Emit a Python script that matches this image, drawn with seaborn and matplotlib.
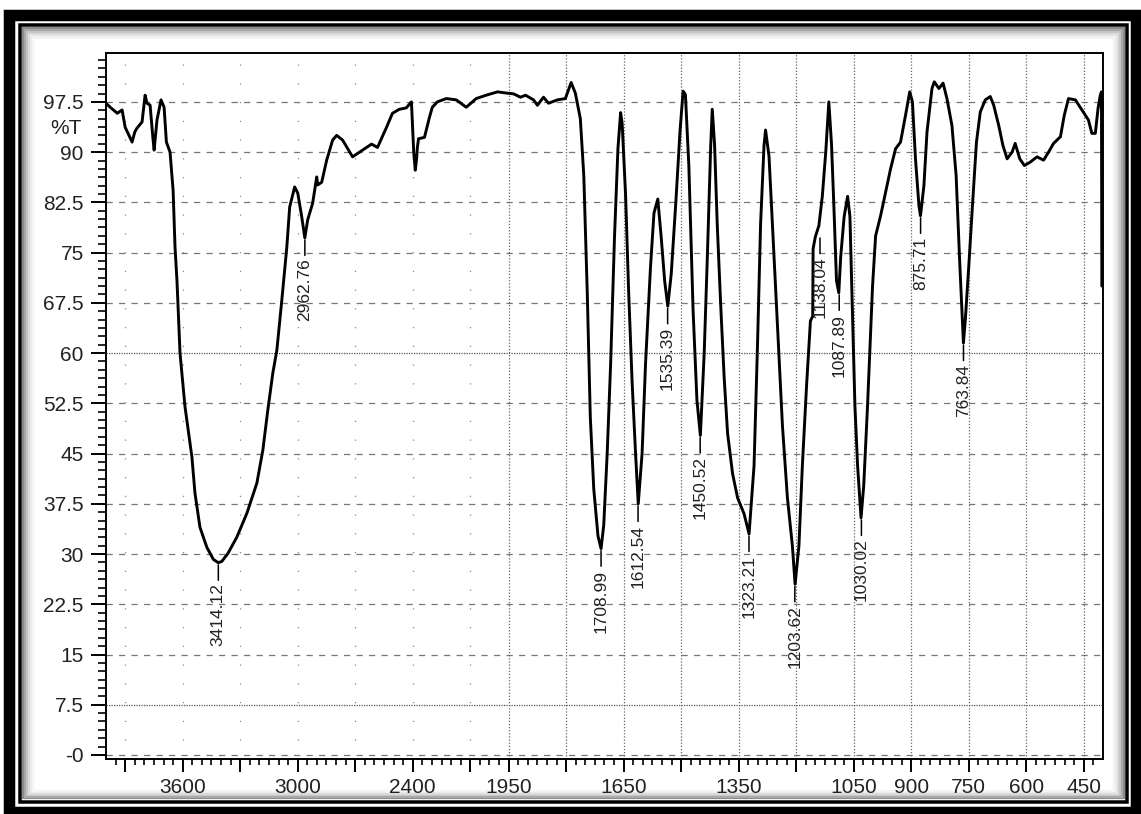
import numpy as np
import pandas as pd
import seaborn as sns
import matplotlib.pyplot as plt
from matplotlib.patches import Rectangle
from matplotlib.ticker import FixedLocator, FixedFormatter
import matplotlib.transforms as mtransforms

# FTIR spectrum (wavenumber cm-1, %T)
wavenumber = [
    4000, 3978, 3941, 3916, 3900, 3880, 3864, 3850, 3838, 3812, 3796, 3786, 3770,
    3755, 3749, 3740, 3734, 3713, 3697, 3685, 3666, 3650, 3640, 3630, 3614, 3588,
    3552, 3536, 3510, 3474, 3440, 3414, 3396, 3364, 3318, 3265, 3213, 3182, 3156,
    3130, 3109, 3083, 3068, 3057, 3042, 3016, 3000, 2980, 2963, 2948, 2922, 2901,
    2896, 2875, 2849, 2818, 2797, 2766, 2714, 2662, 2615, 2584, 2537, 2506, 2470,
    2434, 2407, 2395, 2387, 2380, 2376, 2370, 2355, 2339, 2313, 2298, 2272, 2225,
    2173, 2121, 2069, 2017, 1979, 1953, 1937, 1919, 1906, 1885, 1875, 1859, 1846,
    1823, 1802, 1787, 1776, 1763, 1754, 1745, 1737, 1728, 1717, 1709, 1702, 1693,
    1684, 1674, 1665, 1658, 1654, 1645, 1637, 1628, 1619, 1612, 1602, 1593, 1580,
    1571, 1561, 1552, 1543, 1535, 1526, 1514, 1503, 1495, 1489, 1480, 1469, 1459,
    1450, 1440, 1432, 1423, 1419, 1413, 1406, 1397, 1388, 1379, 1366, 1353, 1336,
    1323, 1310, 1301, 1293, 1284, 1280, 1271, 1262, 1249, 1236, 1223, 1210, 1203,
    1193, 1184, 1173, 1163, 1157, 1156, 1150, 1141, 1132, 1123, 1115, 1108, 1102,
    1095, 1089, 1084, 1075, 1066, 1060, 1054, 1047, 1040, 1031, 1024, 1014, 1001,
    993, 980, 967, 954, 941, 928, 915, 904, 897, 889, 880, 876, 867, 859, 846,
    840, 828, 817, 807, 794, 783, 774, 764, 759, 750, 741, 730, 720, 707, 694,
    685, 672, 661, 650, 637, 629, 617, 605, 590, 572, 555, 542, 529, 511, 501,
    490, 472, 455, 438, 429, 420, 413, 407, 404, 403,
]
transmittance = [
    97.3, 96.7, 95.8, 96.3, 93.7, 92.5, 91.5, 93.0, 93.6, 94.5, 98.5, 97.3, 97.0,
    92.0, 90.3, 93.0, 94.8, 97.8, 96.7, 91.5, 90.0, 84.3, 75.8, 70.9, 60.0, 52.0,
    44.5, 39.1, 34.0, 31.0, 29.2, 28.7, 28.9, 30.1, 32.5, 36.1, 40.6, 45.5, 51.5,
    57.0, 60.4, 67.9, 72.5, 75.8, 81.8, 84.8, 83.9, 80.5, 77.2, 79.9, 82.4, 86.3,
    85.1, 85.5, 88.8, 91.8, 92.5, 91.8, 89.3, 90.3, 91.2, 90.7, 93.7, 95.8, 96.4,
    96.6, 97.5, 90.0, 87.3, 89.0, 90.7, 92.0, 92.1, 92.2, 95.2, 96.7, 97.5, 98.0,
    97.8, 96.7, 98.0, 98.5, 99.0, 98.8, 98.7, 98.2, 98.5, 97.8, 97.0, 98.2, 97.3,
    97.8, 98.0, 100.4, 98.8, 95.0, 86.5, 69.1, 50.4, 39.7, 32.7, 30.8, 34.3, 45.0,
    58.4, 77.2, 90.5, 95.9, 94.3, 83.6, 69.1, 55.7, 45.0, 37.5, 45.0, 58.4, 72.9,
    80.9, 83.0, 77.2, 70.7, 67.0, 71.8, 82.5, 93.2, 99.1, 98.6, 87.9, 66.4, 53.0,
    47.7, 60.0, 74.0, 91.0, 96.4, 91.2, 79.2, 67.2, 56.4, 48.0, 42.0, 38.4, 36.0,
    33.0, 43.2, 61.2, 79.2, 91.0, 93.3, 89.4, 79.2, 64.2, 49.2, 38.4, 31.2, 25.5,
    31.2, 43.2, 55.2, 64.8, 65.5, 75.6, 77.4, 79.0, 83.4, 90.0, 97.5, 91.2, 82.2,
    70.8, 69.0, 74.4, 80.4, 83.4, 80.4, 67.2, 52.2, 43.2, 35.4, 40.2, 52.2, 70.0,
    77.5, 80.5, 84.0, 87.5, 90.5, 91.5, 95.5, 99.0, 97.5, 89.0, 82.0, 80.5, 85.0,
    93.0, 99.5, 100.5, 99.5, 100.3, 98.0, 94.0, 86.5, 74.0, 61.5, 65.0, 73.0, 81.5,
    91.5, 96.0, 97.8, 98.3, 97.0, 94.0, 91.0, 89.0, 90.0, 91.3, 89.0, 88.0, 88.5,
    89.3, 88.8, 90.0, 91.3, 92.3, 95.5, 98.0, 97.8, 96.3, 94.8, 92.8, 92.8, 96.5,
    98.5, 99.0, 70.0,
]

# labelled peaks
peak_wn = [3414.12, 2962.76, 1708.99, 1612.54, 1535.39, 1450.52, 1323.21,
           1203.62, 1138.04, 1087.89, 1030.02, 875.71, 763.84]
peak_T = [28.7, 77.2, 30.8, 37.5, 67.0, 47.7, 33.0, 25.5, 77.5, 69.0, 35.4, 80.5, 61.5]

# axis ticks
x_major = [3900, 3600, 3300, 3000, 2700, 2400, 2100, 1950, 1800, 1650, 1500,
           1350, 1200, 1050, 900, 750, 600, 450]
x_labelled = [3600, 3000, 2400, 1950, 1650, 1350, 1050, 900, 750, 600, 450]
y_major = [0, 7.5, 15, 22.5, 30, 37.5, 45, 52.5, 60, 67.5, 75, 82.5, 90, 97.5]

df = pd.DataFrame({"wavenumber": wavenumber, "T": transmittance})

sns.set_style("ticks")
plt.rcParams["font.family"] = ["Liberation Sans", "DejaVu Sans"]

W, H = 1141, 814
fig = plt.figure(figsize=(W / 100, H / 100), dpi=100)
ax = fig.add_axes([106 / W, 1 - 759 / H, 997 / W, 706 / H])


# instrument scale: 2x expansion below 2000 cm-1
def fwd(w):
    w = np.asarray(w, dtype=float)
    return np.where(w <= 2000, 2 * w, w + 2000)


def inv(t):
    t = np.asarray(t, dtype=float)
    return np.where(t <= 4000, t / 2, t - 2000)


sns.lineplot(data=df, x="wavenumber", y="T", sort=False, estimator=None,
             color="black", lw=2.1, ax=ax)
ax.set_xscale("function", functions=(fwd, inv))
ax.set_xlim(4000, 400)
ax.set_ylim(-0.6, 104.8)
ax.set_xlabel("")
ax.set_ylabel("")

# grid
for y in y_major:
    if y in (60, 7.5):
        ax.axhline(y, color="#555555", lw=0.9, ls=(0, (1, 1)), zorder=0)
    else:
        ax.axhline(y, color="#777777", lw=0.9, ls=(0, (5, 5)), zorder=0)
for x in x_major:
    if x <= 1950:
        ax.axvline(x, color="#666666", lw=0.9, ls=(0, (1, 1.5)), zorder=0)
    else:
        ax.axvline(x, color="#888888", lw=0.9, ls=(0, (1, 14)), zorder=0)

# ticks
x_minor = [w for w in range(3950, 2000, -50)] + [w for w in range(2000, 400, -25)]
ax.xaxis.set_major_locator(FixedLocator(x_major))
ax.xaxis.set_major_formatter(FixedFormatter([str(w) if w in x_labelled else "" for w in x_major]))
ax.xaxis.set_minor_locator(FixedLocator(x_minor))
ax.yaxis.set_major_locator(FixedLocator(y_major))
ax.yaxis.set_major_formatter(FixedFormatter(["-0"] + [f"{v:g}" for v in y_major[1:]]))
ax.yaxis.set_minor_locator(FixedLocator(list(np.arange(0, 104.5, 1.25))))
ax.tick_params(axis="both", which="both", bottom=True, left=True, top=False, right=False)
ax.tick_params(axis="x", which="major", direction="out", length=9.5, width=1.4,
               labelsize=15, pad=4, colors="black", labelcolor="#222222")
ax.tick_params(axis="x", which="minor", direction="out", length=4.5, width=1.2, colors="black")
ax.tick_params(axis="y", which="major", direction="out", length=11, width=1.4,
               labelsize=15, pad=5, colors="black", labelcolor="#222222")
ax.tick_params(axis="y", which="minor", direction="out", length=5.5, width=1.2, colors="black")
for s in ax.spines.values():
    s.set_visible(True)
    s.set_color("black")
    s.set_linewidth(1.4)

trans = mtransforms.blended_transform_factory(ax.transAxes, ax.transData)
ax.text(-0.024, 93.6, "%T", transform=trans, ha="right", va="center",
        fontsize=15, color="#222222")

# peak labels
for w, t in zip(peak_wn, peak_T):
    ax.annotate(f"{w:.2f}", xy=(w, t), xytext=(0, -15), textcoords="offset points",
                rotation=90, ha="center", va="top", fontsize=12.5, color="#222222",
                arrowprops=dict(arrowstyle="-", lw=1.1, color="black",
                                shrinkA=0, shrinkB=1.5),
                annotation_clip=False)


# picture frame around the figure
def frame(x0, y0, x1, y1, lw, color, z):
    fig.add_artist(Rectangle((x0 / W, 1 - y1 / H), (x1 - x0) / W, (y1 - y0) / H,
                             transform=fig.transFigure, fill=False,
                             lw=lw * 0.72, edgecolor=color, zorder=z))


for i, c in enumerate(["#8a8a8a", "#a8a8a8", "#c4c4c4", "#dadada", "#ebebeb", "#f5f5f5"]):
    frame(23 + 2 * i, 28 + 2 * i, 1124 - 2 * i, 798 - 1.5 * i, 2.2, c, -1)
frame(9, 14.5, 1135.5, 812, 11.5, "black", 5)
frame(19.5, 24.5, 1127, 802, 3.5, "black", 5)

plt.savefig("out.png", dpi=100)
